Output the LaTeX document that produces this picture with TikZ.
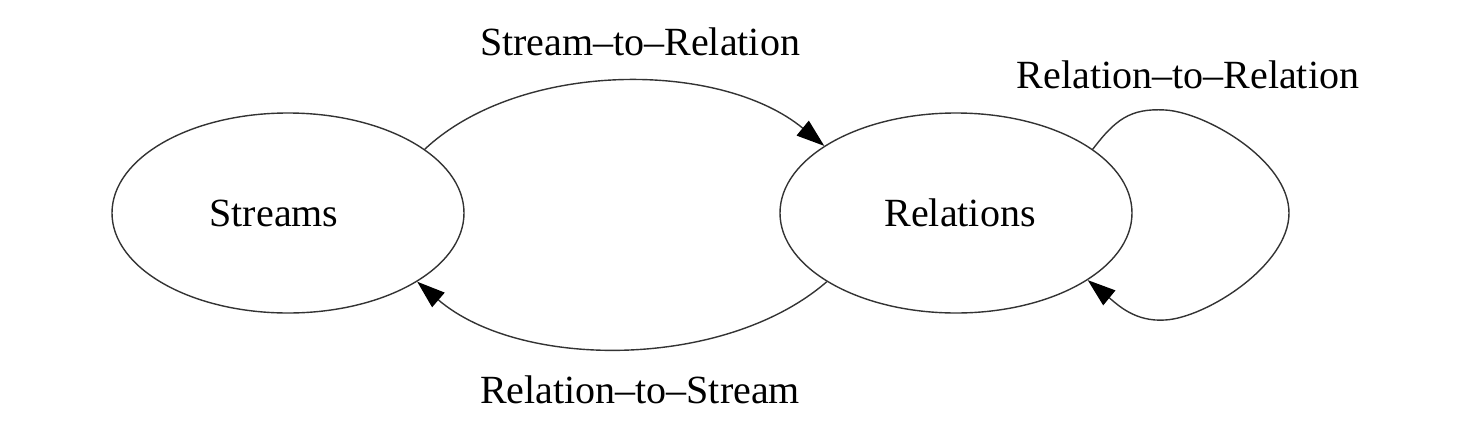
\documentclass[tikz,border=0pt]{standalone}
\usepackage{fontspec}
\setmainfont{Liberation Serif}
\usetikzlibrary{shapes.geometric,arrows.meta}

\begin{document}
\begin{tikzpicture}[x=0.5pt,y=-0.5pt,
  state/.style={draw=black!80,ellipse,line width=0.7pt,minimum width=176pt,minimum height=100pt,inner sep=0pt,font=\fontsize{20}{24}\selectfont},
  flow/.style={draw=black!80,line width=0.7pt,-{Triangle[length=14pt,width=9.5pt,fill=black,color=black]}},
  flowlabel/.style={font=\fontsize{20}{24}\selectfont,inner sep=0pt}]
  \useasboundingbox (0,0) rectangle (1464,440);

  % Two kinds of data
  \node[state] (streams) at (288,213) {Streams\kern14pt};
  \node[state] (relations) at (956,213) {\kern4pt Relations};

  % Operators between them
  \draw[flow] (streams.25) .. controls (520,60) and (720,60) .. (relations.153);
  \draw[flow] (relations.208) .. controls (725,370) and (520,370) .. (streams.332);
  \draw[flow] (relations.25) .. controls (1115,120) and (1130,108) .. (1165,110)
    .. controls (1205,112) and (1289,160) .. (1289,213)
    .. controls (1289,266) and (1205,318) .. (1165,320)
    .. controls (1135,322) and (1118,305) .. (relations.333);

  % Labels
  \node[flowlabel] (lblsr) at (640,42) {Stream–to–Relation};
  \node[flowlabel] (lblrr) at (1188,75) {Relation–to–Relation};
  \node[flowlabel] (lblrs) at (640,390) {Relation–to–Stream};
\end{tikzpicture}
\end{document}
